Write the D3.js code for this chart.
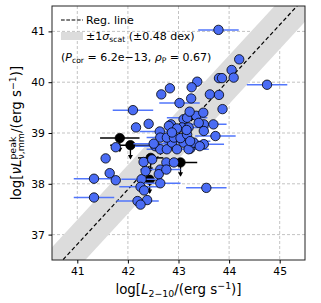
<!DOCTYPE html>
<html><head><meta charset="utf-8">
<script src="https://cdn.jsdelivr.net/npm/d3@7"></script>
<style>body{margin:0;background:#fff}svg{display:block}text{font-family:"DejaVu Sans",sans-serif;fill:#000}</style>
</head><body><svg id="c" width="321" height="303"></svg>
<script>
// ---- data ----
const xTicks = [41, 42, 43, 44, 45];
const yTicks = [37, 38, 39, 40, 41];
const xDomain = [40.5, 45.5];
const yDomain = [36.5, 41.5];
const regSlope = 1.08;
const regIntercept = -7.47;
const scatDex = 0.48;
const blueX = [43.79,44.20,44.05,44.09,43.80,43.86,44.75,43.37,43.26,42.83,42.66,43.62,43.80,43.25,43.02,43.87,42.10,42.41,42.16,42.85,42.63,41.76,41.56,41.64,41.33,41.76,41.33,42.31,42.27,42.25,42.32,42.38,42.19,42.25,42.64,43.55,42.64,43.50,43.23,42.76,42.91,42.61,42.48,42.35,42.76,42.54,42.64,42.77,42.87,42.97,43.10,43.20,43.30,42.81,43.10,43.17,43.35,43.49,43.22,43.07,43.20,43.50,43.69,43.50,42.64,42.77,42.91,43.04,43.17,43.23,43.73,43.42,42.97,42.87,42.51,43.40,43.16];
const blueY = [41.03,40.45,40.24,40.09,40.08,40.08,39.95,40.01,39.90,39.88,39.76,39.76,39.75,39.68,39.59,39.47,39.45,39.18,39.11,39.17,39.03,38.72,38.50,38.21,38.10,38.07,37.73,38.43,38.09,37.94,37.87,37.68,37.66,37.59,38.28,37.92,38.01,38.78,38.69,38.42,38.42,38.19,38.48,38.25,38.28,38.74,38.68,38.68,38.81,38.68,38.81,38.68,38.81,39.14,39.27,39.30,39.34,39.40,39.42,39.11,39.11,39.17,39.17,39.04,38.91,38.91,38.91,38.90,38.97,38.84,38.94,38.74,39.09,39.01,38.79,39.20,39.06];
const blueXerr = [0.40,0,0,0,0,0,0.40,0,0,0,0,0,0,0,0.40,0,0.40,0,0,0,0.40,0,0,0,0.40,0,0.40,0,0.40,0.42,0,0,0.42,0,0.40,0.40,0.40,0.40,0,0,0,0,0,0,0,0.40,0,0.40,0,0,0.40,0.40,0,0,0,0.40,0,0,0,0,0.40,0.45,0,0,0,0.40,0,0,0,0.40,0.40,0,0,0,0.40,0,0];
const limX = [41.84,42.05,42.45,42.43,43.04];
const limY = [38.90,38.76,38.51,38.08,38.42];
const limXerr = [0.39,0.40,0.25,0.20,0.33];
const arrowLen = 0.26;
const legendLabels = ["Reg. line", "±1σscat (±0.48 dex)"];

// ---- layout ----
const svg = d3.select("#c");
const L = 52, R = 305, T = 6, B = 260;
const x = d3.scaleLinear(xDomain, [L, R]);
const y = d3.scaleLinear(yDomain, [B, T]);
const blue = "#4a6cf4", blueBar = "#5276fb";

svg.append("defs").append("clipPath").attr("id","pc").append("rect")
  .attr("x",L).attr("y",T).attr("width",R-L).attr("height",B-T);

// grid
const grid = svg.append("g").attr("stroke","#b4b4b4").attr("stroke-width",0.8).attr("stroke-dasharray","3,2");
grid.selectAll("line.gx").data(xTicks).join("line").attr("x1",d=>x(d)).attr("x2",d=>x(d)).attr("y1",T).attr("y2",B);
grid.selectAll("line.gy").data(yTicks).join("line").attr("y1",d=>y(d)).attr("y2",d=>y(d)).attr("x1",L).attr("x2",R);

const plot = svg.append("g").attr("clip-path","url(#pc)");
// band
const xs = [xDomain[0]-1, xDomain[1]+1];
const bandPts = [[xs[0], regSlope*xs[0]+regIntercept+scatDex],[xs[1], regSlope*xs[1]+regIntercept+scatDex],
  [xs[1], regSlope*xs[1]+regIntercept-scatDex],[xs[0], regSlope*xs[0]+regIntercept-scatDex]];
plot.append("path").attr("d", d3.line().x(d=>x(d[0])).y(d=>y(d[1]))(bandPts)+"Z").attr("fill","#dcdcdc");
plot.append("line").attr("x1",x(xs[0])).attr("y1",y(regSlope*xs[0]+regIntercept))
  .attr("x2",x(xs[1])).attr("y2",y(regSlope*xs[1]+regIntercept))
  .attr("stroke","#000").attr("stroke-width",1.2).attr("stroke-dasharray","4,2.5");

// upper limits (black)
const lim = limX.map((v,i)=>({x:v,y:limY[i],e:limXerr[i]}));
plot.selectAll("line.le").data(lim).join("line").attr("x1",d=>x(d.x-d.e)).attr("x2",d=>x(d.x+d.e))
  .attr("y1",d=>y(d.y)).attr("y2",d=>y(d.y)).attr("stroke","#000").attr("stroke-width",1.5);
plot.selectAll("line.la").data(lim).join("line").attr("x1",d=>x(d.x)).attr("x2",d=>x(d.x))
  .attr("y1",d=>y(d.y)).attr("y2",d=>y(d.y-arrowLen)).attr("stroke","#000").attr("stroke-width",1.3);
plot.selectAll("path.lh").data(lim).join("path")
  .attr("d",d=>{const px=x(d.x), py=y(d.y-arrowLen); return `M${px-2.5},${py-3.5}L${px+2.5},${py-3.5}L${px},${py+1}Z`;})
  .attr("fill","#000");
plot.selectAll("circle.lc").data(lim).join("circle").attr("cx",d=>x(d.x)).attr("cy",d=>y(d.y)).attr("r",4.7)
  .attr("fill","#000").attr("stroke","#000").attr("stroke-width",0.8);

// blue points
const pts = blueX.map((v,i)=>({x:v,y:blueY[i],e:blueXerr[i]}));
plot.selectAll("line.be").data(pts.filter(d=>d.e>0)).join("line").attr("x1",d=>x(d.x-d.e)).attr("x2",d=>x(d.x+d.e))
  .attr("y1",d=>y(d.y)).attr("y2",d=>y(d.y)).attr("stroke",blueBar).attr("stroke-width",1.5);
plot.selectAll("circle.bc").data(pts).join("circle").attr("cx",d=>x(d.x)).attr("cy",d=>y(d.y)).attr("r",4.7)
  .attr("fill",blue).attr("stroke","#000").attr("stroke-width",0.8);

// frame
svg.append("rect").attr("x",L).attr("y",T).attr("width",R-L).attr("height",B-T)
  .attr("fill","none").attr("stroke","#222").attr("stroke-width",1);

// axes
const xa = svg.append("g").attr("transform",`translate(0,${B})`).call(d3.axisBottom(x).tickValues(xTicks).tickSize(3.5).tickPadding(3.5).tickFormat(d3.format("d")));
const ya = svg.append("g").attr("transform",`translate(${L},0)`).call(d3.axisLeft(y).tickValues(yTicks).tickSize(3.5).tickPadding(3.5).tickFormat(d3.format("d")));
[xa,ya].forEach(a=>{a.select(".domain").remove(); a.selectAll("text").attr("font-size",10.8).attr("font-family","DejaVu Sans").attr("fill","#000"); a.selectAll("line").attr("stroke","#000");});

// rich text helper
function rich(t, segs, base){
  let cur = 0, lastW = 0;
  segs.forEach(s=>{
    const size = s.s ? base*0.7 : base;
    const off = s.s==="sup" ? -base*0.4 : s.s==="sub" ? base*0.22 : 0;
    const ts = t.append("tspan").text(s.t).attr("font-size",size).attr("dy",off-cur);
    if (s.i) ts.attr("font-style","italic");
    if (s.stack) ts.attr("dx",-lastW);
    cur = off; lastW = ts.node().getComputedTextLength();
  });
  return t;
}
function centerX(t){ const bb = t.node().getBBox(); t.attr("x", -bb.width/2); }
// x label
const xl = svg.append("g").attr("transform",`translate(${(L+R)/2},294)`);
centerX(rich(xl.append("text").attr("x",0).attr("y",0),
  [{t:"log["},{t:"L",i:1},{t:"2−10",s:"sub"},{t:"/(erg s"},{t:"−1",s:"sup"},{t:")]"}],13.4));
// y label
const yl = svg.append("g").attr("transform",`translate(21,${(T+B)/2}) rotate(-90)`);
centerX(rich(yl.append("text").attr("x",0).attr("y",0),
  [{t:"log["},{t:"νL",i:1},{t:"peak",s:"sup"},{t:"ν,mm",s:"sub",stack:1},{t:"/(erg s"},{t:"−1",s:"sup"},{t:")]"}],13.4));

// legend
const lg = svg.append("g");
lg.append("line").attr("x1",61).attr("x2",83).attr("y1",20).attr("y2",20).attr("stroke","#000").attr("stroke-width",1.2).attr("stroke-dasharray","3.7,1.6");
lg.append("text").attr("x",86).attr("y",24).attr("font-size",11).text(legendLabels[0]);
lg.append("rect").attr("x",61).attr("y",32).attr("width",22).attr("height",8).attr("fill","#dcdcdc");
rich(lg.append("text").attr("x",86).attr("y",40),
  [{t:"±1"},{t:"σ",i:1},{t:"scat",s:"sub"},{t:" (±0.48 dex)"}],11);
rich(lg.append("text").attr("x",61).attr("y",61),
  [{t:"("},{t:"P",i:1},{t:"cor",s:"sub"},{t:" = 6.2e−13, "},{t:"ρ",i:1},{t:"P",s:"sub"},{t:" = 0.67)"}],11);
</script></body></html>
